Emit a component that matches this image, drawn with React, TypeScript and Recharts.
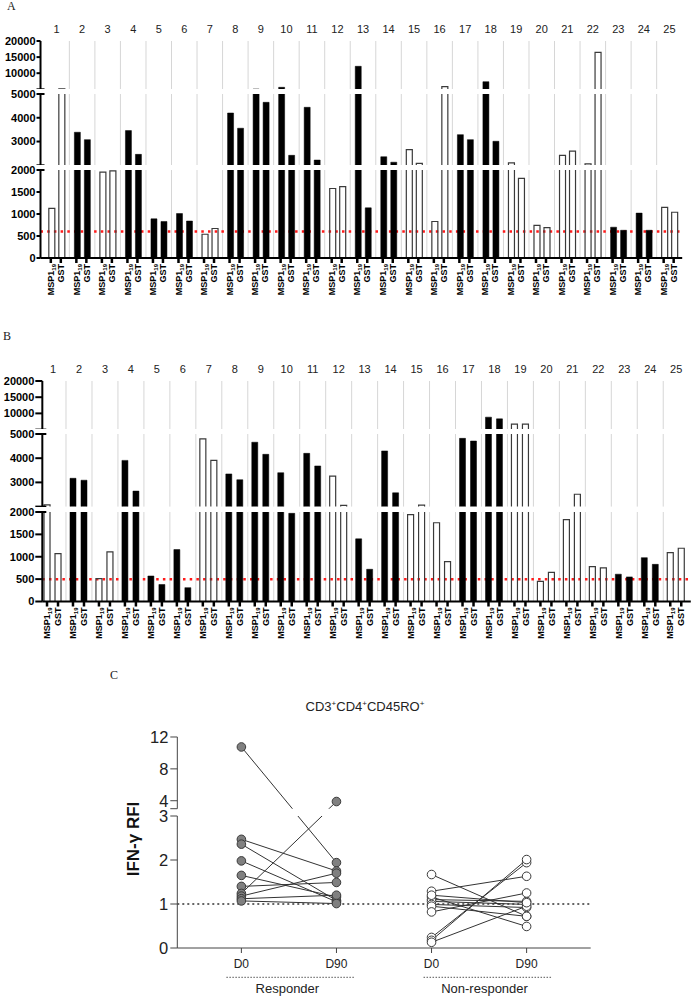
import React from 'react';
import { BarChart, Bar, XAxis, YAxis, ReferenceLine, Cell, LineChart, Line } from 'recharts';

const FONT = 'Arial, "Liberation Sans", Helvetica, sans-serif';
const SERIF = '"Times New Roman", "Liberation Serif", "DejaVu Serif", serif';
const W = 691;

// ---------- Panels A and B: IFN-gamma spots per donor ----------
const donors = [1, 2, 3, 4, 5, 6, 7, 8, 9, 10, 11, 12, 13, 14, 15, 16, 17, 18, 19, 20, 21, 22, 23, 24, 25];
// donors drawn with filled bars
const filledDonors = [2, 4, 5, 6, 8, 9, 10, 11, 13, 14, 17, 18, 23, 24];

const mspA = [1130, 3390, 1950, 3460, 890, 1010, 540, 4200, 5100, 5620, 4440, 1580, 12140, 2360, 2660, 830, 3290, 7360, 2100, 740, 2420, 2060, 700, 1020, 1150];
const gstA = [5150, 3080, 1980, 2460, 830, 840, 670, 3560, 4650, 2420, 2220, 1620, 1140, 2130, 2080, 5810, 3080, 3010, 1810, 690, 2600, 16490, 630, 630, 1040];
const cutoffA = 600;

const mspB = [2070, 3170, 510, 3910, 570, 1160, 4800, 3350, 4660, 3400, 4200, 3260, 1400, 4300, 1940, 1760, 4820, 8840, 6660, 450, 1830, 780, 610, 980, 1090];
const gstB = [1070, 3090, 1110, 2640, 380, 310, 3910, 3110, 4160, 1970, 3680, 2050, 720, 2570, 2060, 890, 4710, 8310, 6660, 650, 2510, 750, 550, 830, 1190];
const cutoffB = 500;

// broken y axis, segments from bottom to top
const segmentRanges = [[0, 2000], [2000, 5000], [5000, 20000]];
const segmentTicks = [[0, 500, 1000, 1500, 2000], [2000, 3000, 4000, 5000], [5000, 10000, 15000, 20000]];

const layoutA = {
  axisX: 40.5, right: 682.2, xDomain: [0.37, 25.5],
  plotY: [[170, 258], [94, 165.3], [41, 89.3]],
  barSize: 6, barGap: 4, tickLen: 4,
};
const layoutB = {
  axisX: 42.3, right: 690.8, xDomain: [0.588, 25.56],
  plotY: [[511.5, 601], [434, 506.6], [380.7, 429.3]],
  barSize: 6, barGap: 5, tickLen: 7,
};

// upper segments draw a bar as a range starting below their clipped base
const segmentValue = (v: number, lo: number, hi: number) =>
  lo === 0 ? v : v > lo ? [lo - (hi - lo) * 0.25, v] : null;

const cells = (key: string) =>
  donors.map((d) => {
    const filled = filledDonors.includes(d);
    return (
      <Cell
        key={`${key}-${d}`}
        fill={filled ? '#000' : 'none'}
        stroke={filled ? '#000' : '#3a3a3a'}
        strokeWidth={filled ? 0.5 : 1.2}
      />
    );
  });

function BarSegment({ layout, msp, gst, cutoff, seg }: any) {
  const [lo, hi] = segmentRanges[seg];
  const [plotTop, plotBottom] = layout.plotY[seg];
  const isTop = seg === segmentRanges.length - 1;
  const isBottom = seg === 0;
  const head = isTop ? 26 : 8;
  const foot = isBottom ? 45 : 0;
  const plotH = plotBottom - plotTop;
  const axisY = head + plotH;
  const rows = donors.map((d, i) => ({
    donor: d,
    msp: segmentValue(msp[i], lo, hi),
    gst: segmentValue(gst[i], lo, hi),
  }));

  const sum = layout.barSize * 2 + layout.barGap;
  const band = (layout.right - layout.axisX) / (layout.xDomain[1] - layout.xDomain[0]);
  const off = Math.floor((band - sum) / 2);
  const c0 = -band / 2 + off + layout.barSize / 2;
  const c1 = c0 + layout.barSize + layout.barGap;

  const yTick = (p: any) => {
    const v = p.payload.value;
    const atBreak = (v === lo && seg > 0) || (v === hi && !isTop);
    const labeled = !(v === lo && seg > 0);
    const ax = layout.axisX;
    return (
      <g>
        <line x1={ax - layout.tickLen} x2={atBreak ? ax + 4 : ax} y1={p.y} y2={p.y} stroke="#000" strokeWidth={2} />
        {labeled && (
          <text x={ax - layout.tickLen - 1} y={p.y} dy="0.36em" textAnchor="end" fontSize={11} fontWeight="bold" fontFamily={FONT} fill="#000">
            {v}
          </text>
        )}
      </g>
    );
  };

  const numTick = (p: any) => (
    <text x={p.x} y={18} textAnchor="middle" fontSize={11} fontFamily={FONT} fill="#222">
      {p.payload.value}
    </text>
  );

  const pairTick = (p: any) => (
    <g>
      {[c0, c1].map((o, k) => (
        <g key={k}>
          <line x1={p.x + o} x2={p.x + o} y1={axisY} y2={axisY + 5} stroke="#000" strokeWidth={2.5} />
          <text
            transform={`translate(${p.x + o + 3.2},${axisY + 6}) rotate(-90)`}
            textAnchor="end"
            fontSize={9}
            fontWeight="bold"
            fontFamily={FONT}
            fill="#000"
          >
            {k === 0 ? (
              <>
                <tspan>MSP1</tspan>
                <tspan fontSize={6} dy={2}>19</tspan>
              </>
            ) : (
              'GST'
            )}
          </text>
        </g>
      ))}
    </g>
  );

  const xCommon: any = {
    type: 'number',
    dataKey: 'donor',
    domain: layout.xDomain,
    allowDataOverflow: true,
    ticks: donors,
    interval: 0,
  };

  return (
    <div style={{ position: 'absolute', left: 0, top: plotTop - head }}>
      <BarChart
        width={W}
        height={head + plotH + foot}
        data={rows}
        margin={{ top: isTop ? 0 : head, right: W - layout.right, bottom: 0, left: 0 }}
        barSize={layout.barSize}
        barGap={layout.barGap}
      >
        {isTop && <XAxis {...xCommon} orientation="top" height={head} axisLine={false} tickLine={false} tick={numTick} />}
        {isBottom && (
          <XAxis {...xCommon} orientation="bottom" height={foot} axisLine={{ stroke: '#000', strokeWidth: 2 }} tickLine={false} tick={pairTick} />
        )}
        {!isTop && !isBottom && <XAxis {...xCommon} hide />}
        <YAxis
          type="number"
          domain={[lo, hi]}
          allowDataOverflow
          ticks={segmentTicks[seg]}
          interval={0}
          width={layout.axisX}
          axisLine={{ stroke: '#000', strokeWidth: 2 }}
          tickLine={false}
          tick={yTick}
        />
        {donors.slice(1).map((d) => (
          <ReferenceLine key={`sep-${d}`} x={d - 0.5} stroke="#d6d6d6" strokeWidth={1} zIndex={100} />
        ))}
        {isBottom && (
          <ReferenceLine y={cutoff} stroke="#ff1a1a" strokeWidth={2.5} strokeDasharray="2.5 4.2" zIndex={100} />
        )}
        <Bar dataKey="msp" isAnimationActive={false}>{cells('msp')}</Bar>
        <Bar dataKey="gst" isAnimationActive={false}>{cells('gst')}</Bar>
      </BarChart>
    </div>
  );
}

function SpotPanel({ layout, msp, gst, cutoff }: any) {
  return (
    <>
      {segmentRanges.map((_, s) => (
        <BarSegment key={s} layout={layout} msp={msp} gst={gst} cutoff={cutoff} seg={s} />
      ))}
    </>
  );
}

// ---------- Panel C: IFN-gamma RFI, D0 vs D90 ----------
const responderD0 = [10.75, 2.47, 2.36, 1.98, 1.65, 1.4, 1.24, 1.18, 1.12, 1.07];
const responderD90 = [1.94, 1.75, 1.08, 1.05, 1.16, 1.49, 3.9, 1.7, 1.2, 1.01];
const nonResponderD0 = [1.67, 1.29, 1.16, 1.1, 1.06, 0.99, 0.95, 0.82, 0.24, 0.175, 0.13, 1.2];
const nonResponderD90 = [0.72, 1.63, 0.49, 1.06, 0.99, 0.92, 0.72, 1.25, 1.94, 2.01, 0.95, 1.03];
const dayLabels = ['D0', 'D90', 'D0', 'D90'];
const groupLabels = ['Responder', 'Non-responder'];
const lowerTicks = [0, 1, 2, 3];
const upperTicks = [3, 4, 8, 12];

// the axis is broken above 3; values above it are compressed
const BREAK_AT = 3;
const BREAK_GAP = 0.152;
const HIGH_SCALE = 0.181;
const upperDisplay = (v: number) => BREAK_AT + BREAK_GAP + (v - BREAK_AT) * HIGH_SCALE;
const toDisplay = (v: number) => (v <= BREAK_AT ? v : upperDisplay(v));

const rfiLayout = {
  axisX: 177.3, right: 590.7, xDomain: [-0.674, 3.674],
  upperY: [737.3, 809], lowerY: [815.7, 947.7],
  // group caption offsets from the D0 tick: dotted rule centre, caption centre
  groupRule: [49.5, 56.5], groupText: [46, 53],
};

const subjects = [
  ...responderD0.map((d0, i) => ({ x0: 0, d0, d90: responderD90[i], fill: '#808080' })),
  ...nonResponderD0.map((d0, i) => ({ x0: 2, d0, d90: nonResponderD90[i], fill: '#ffffff' })),
];

function RfiSegment({ upper }: { upper: boolean }) {
  const [plotTop, plotBottom] = upper ? rfiLayout.upperY : rfiLayout.lowerY;
  const head = 10;
  const foot = upper ? 4 : 50;
  const plotH = plotBottom - plotTop;
  const domain = upper ? [upperDisplay(BREAK_AT), upperDisplay(12)] : [0, BREAK_AT];
  const ticks = upper ? upperTicks.map(upperDisplay) : lowerTicks;
  const ax = rfiLayout.axisX;

  const yTick = (p: any) => {
    const d = p.payload.value;
    const raw = upper ? BREAK_AT + (d - BREAK_AT - BREAK_GAP) / HIGH_SCALE : d;
    const label = upper && Math.abs(raw - BREAK_AT) < 1e-6 ? '' : String(Math.round(raw));
    return (
      <g>
        <line x1={ax - 7} x2={ax} y1={p.y} y2={p.y} stroke="#444" strokeWidth={1} />
        {label && (
          <text x={ax - 9} y={p.y} dy="0.36em" textAnchor="end" fontSize={16.5} fontFamily={FONT} fill="#222">
            {label}
          </text>
        )}
      </g>
    );
  };

  const dayTick = (p: any) => {
    const top = head + plotH;
    const i = Math.round(p.payload.value);
    const g = i / 2;
    return (
      <g>
        <line x1={p.x} x2={p.x} y1={top} y2={top + 5} stroke="#444" strokeWidth={1} />
        <text x={p.x} y={top + 15.3} dy="0.36em" textAnchor="middle" fontSize={12} fontFamily={FONT} fill="#222">
          {dayLabels[i]}
        </text>
        {i % 2 === 0 && (
          <g>
            <line
              x1={p.x + rfiLayout.groupRule[g] - 64.5}
              x2={p.x + rfiLayout.groupRule[g] + 64.5}
              y1={top + 29.3}
              y2={top + 29.3}
              stroke="#555"
              strokeWidth={1}
              strokeDasharray="1.5 1.5"
            />
            <text x={p.x + rfiLayout.groupText[g]} y={top + 40.3} dy="0.36em" textAnchor="middle" fontSize={13} fontFamily={FONT} fill="#222">
              {groupLabels[g]}
            </text>
          </g>
        )}
      </g>
    );
  };

  return (
    <div style={{ position: 'absolute', left: 0, top: plotTop - head }}>
      <LineChart
        width={W}
        height={head + plotH + foot}
        margin={{ top: head, right: W - rfiLayout.right, bottom: upper ? foot : 0, left: 0 }}
      >
        <XAxis
          type="number"
          dataKey="x"
          domain={rfiLayout.xDomain}
          allowDataOverflow
          ticks={[0, 1, 2, 3]}
          interval={0}
          hide={upper}
          height={foot}
          axisLine={{ stroke: '#444', strokeWidth: 1 }}
          tickLine={false}
          tick={dayTick}
        />
        <YAxis
          type="number"
          domain={domain}
          allowDataOverflow
          ticks={ticks}
          interval={0}
          width={ax}
          axisLine={{ stroke: '#444', strokeWidth: 1 }}
          tickLine={false}
          tick={yTick}
        />
        {!upper && <ReferenceLine y={1} stroke="#333" strokeWidth={1.3} strokeDasharray="2 3" />}
        {subjects.map((s, i) => (
          <Line
            key={i}
            data={[
              { x: s.x0, y: toDisplay(s.d0) },
              { x: s.x0 + 1, y: toDisplay(s.d90) },
            ]}
            dataKey="y"
            type="linear"
            stroke="#333"
            strokeWidth={1}
            dot={{ r: 4.3, fill: s.fill, stroke: '#3a3a3a', strokeWidth: 1 }}
            activeDot={false}
            isAnimationActive={false}
          />
        ))}
      </LineChart>
    </div>
  );
}

export default function App() {
  return (
    <div style={{ position: 'absolute', left: 0, top: 0, width: W, height: 996, background: '#fff' }}>
      <SpotPanel layout={layoutA} msp={mspA} gst={gstA} cutoff={cutoffA} />
      <SpotPanel layout={layoutB} msp={mspB} gst={gstB} cutoff={cutoffB} />
      <RfiSegment upper />
      <RfiSegment upper={false} />
      <svg width={W} height={996} style={{ position: 'absolute', left: 0, top: 0, pointerEvents: 'none' }}>
        <text x={7} y={10} fontFamily={SERIF} fontSize={12} fill="#222">A</text>
        <text x={3} y={340} fontFamily={SERIF} fontSize={12} fill="#222">B</text>
        <text x={110} y={678.5} fontFamily={SERIF} fontSize={12} fill="#222">C</text>
        <text x={365} y={711} textAnchor="middle" fontSize={13} fontFamily={FONT} fill="#222">
          CD3<tspan fontSize={8} dy={-5}>+</tspan>
          <tspan dy={5}>CD4</tspan>
          <tspan fontSize={8} dy={-5}>+</tspan>
          <tspan dy={5}>CD45RO</tspan>
          <tspan fontSize={8} dy={-5}>+</tspan>
        </text>
        <text transform="translate(139,839) rotate(-90)" textAnchor="middle" fontSize={17} fontWeight="bold" fontFamily={FONT} fill="#111">
          IFN-γ RFI
        </text>
      </svg>
    </div>
  );
}
